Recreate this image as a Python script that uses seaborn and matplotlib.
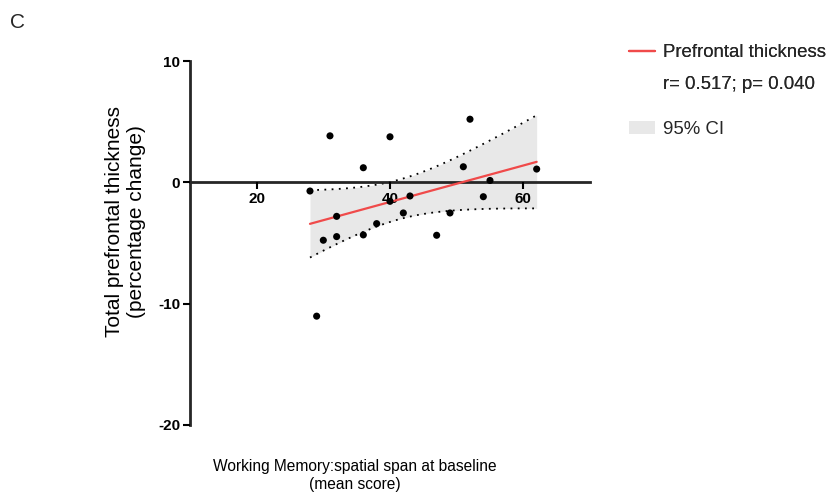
import numpy as np
import pandas as pd
import seaborn as sns
import matplotlib
matplotlib.use("Agg")
import matplotlib.pyplot as plt
from matplotlib.lines import Line2D
from matplotlib.patches import Patch

sns.set_theme(style="ticks")
plt.rcParams['font.family'] = ['Liberation Sans', 'DejaVu Sans']
plt.rcParams['axes.unicode_minus'] = False

# Data
span = [28, 31, 30, 32, 32, 29, 36, 36, 38, 40, 40, 42, 43, 47, 49, 51, 52, 54, 55, 62]
thickness = [-0.71, 3.84, -4.77, -2.80, -4.47, -11.03, 1.21, -4.33, -3.40, 3.76,
             -1.56, -2.52, -1.12, -4.36, -2.52, 1.29, 5.21, -1.18, 0.16, 1.10]
df = pd.DataFrame({"span": span, "thickness": thickness})

x_ticks = [20, 40, 60]
y_ticks = [-20, -10, 0, 10]

fig = plt.figure(figsize=(8.31, 4.97), dpi=100)
ax = fig.add_axes([0.2286, 0.145, 0.4814, 0.732])
ax.set_axisbelow(False)

# 95% confidence band of the linear fit (analytic)
x = df["span"].values
y = df["thickness"].values
n = len(x)
b1, b0 = np.polyfit(x, y, 1)
xs = np.linspace(x.min(), x.max(), 100)
fit = b0 + b1 * xs
resid = y - (b0 + b1 * x)
s = np.sqrt(np.sum(resid ** 2) / (n - 2))
t = 2.101  # t(0.975, 18)
se = s * np.sqrt(1 / n + (xs - x.mean()) ** 2 / np.sum((x - x.mean()) ** 2))
ax.fill_between(xs, fit - t * se, fit + t * se, color="#e8e8e8", lw=0, zorder=1)
ax.plot(xs, fit - t * se, color="black", ls=(0, (1, 3)), lw=1.3, zorder=2)
ax.plot(xs, fit + t * se, color="black", ls=(0, (1, 3)), lw=1.3, zorder=2)

sns.regplot(data=df, x="span", y="thickness", scatter=False, ci=None,
            line_kws={"color": "#f04a4a", "lw": 1.6, "zorder": 3}, ax=ax)
sns.scatterplot(data=df, x="span", y="thickness", color="black", s=26,
                edgecolor="none", zorder=4, ax=ax)

ax.set_xlim(10, 70)
ax.set_ylim(-20, 10)
ax.spines["top"].set_visible(False)
ax.spines["right"].set_visible(False)
ax.spines["bottom"].set_position(("data", 0))
ax.spines["left"].set_linewidth(2)
ax.spines["bottom"].set_linewidth(2)
ax.set_xticks(x_ticks)
ax.set_yticks(y_ticks)
ax.tick_params(axis="both", width=1.5, length=5, labelsize=11, pad=2,
               colors="black")
for lab in ax.get_xticklabels() + ax.get_yticklabels():
    lab.set_fontweight("bold")

ax.set_xlabel("Working Memory:spatial span at baseline\n(mean score)",
              fontsize=11.2, color="black", linespacing=1.2)
ax.xaxis.set_label_coords(0.413, -0.095, transform=ax.transAxes)
ax.xaxis.label.set_verticalalignment("top")
ax.set_ylabel("Total prefrontal thickness\n(percentage change)", fontsize=15,
              color="black", linespacing=1.2)
ax.yaxis.set_label_coords(-0.11, 0.558)

fig.text(0.012, 0.955, "C", fontsize=15, va="center", ha="left")

leg1 = fig.legend([Line2D([], [], color="#f04a4a", lw=1.6), Line2D([], [], color="none")],
                  ["Prefrontal thickness", "r= 0.517; p= 0.040"],
                  loc="upper left", bbox_to_anchor=(0.737, 0.945),
                  frameon=False, fontsize=13.4, handlelength=1.4,
                  labelspacing=0.8, handletextpad=0.42)
fig.add_artist(leg1)
fig.legend([Patch(facecolor="#e8e8e8", edgecolor="none")], ["95% CI"],
           loc="upper left", bbox_to_anchor=(0.737, 0.79),
           frameon=False, fontsize=13.4, handlelength=1.4, handletextpad=0.42)

fig.savefig("out.png", dpi=100)
